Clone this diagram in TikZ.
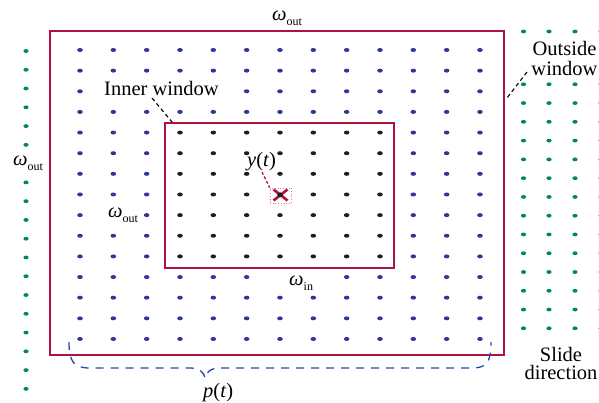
\documentclass[tikz,border=0pt]{standalone}
\usepackage{fontspec}
\setmainfont{Liberation Serif}
\definecolor{outred}{RGB}{176,18,62}
\definecolor{dotblue}{RGB}{45,55,150}
\definecolor{dotgreen}{RGB}{0,140,70}
\definecolor{dotblack}{RGB}{30,30,30}
\definecolor{braceblue}{RGB}{40,70,170}
\definecolor{boxpink}{RGB}{230,120,150}
\newcommand\wlab[1]{\textit{ω}\raisebox{-5.5pt}{\fontsize{12}{12}\selectfont #1}}
\begin{document}
\begin{tikzpicture}[x=1pt,y=-1pt,
  lbl/.style={font=\fontsize{20.5}{20}\selectfont, inner sep=0pt},
  winrect/.style={draw=outred, line width=1.9pt, rectangle, inner sep=0pt, fill=none},
  bluedot/.style={fill=dotblue},
  blackdot/.style={fill=dotblack},
  greendot/.style={fill=dotgreen},
  leader/.style={draw=black, line width=1.1pt, dash pattern=on 4pt off 3pt},
  redleader/.style={draw=outred, line width=1.3pt, dash pattern=on 3pt off 2pt},
  bracestyle/.style={draw=braceblue, line width=1.3pt, dash pattern=on 8pt off 7pt}]
\useasboundingbox (0,0) rectangle (599,402);

% grid of dots
\foreach \k in {0,...,12}{
  \foreach \j in {0,...,14}{
    \pgfmathsetmacro\xx{80+33.33*\k}
    \pgfmathsetmacro\yy{50+20.64*\j}
    \pgfmathtruncatemacro\inside{(\k>2)&&(\k<10)&&(\j>3)&&(\j<11)}
    \pgfmathtruncatemacro\hide{((\j==2)&&(\k>0)&&(\k<5))||((\j==8)&&(\k==1))||((\j==11)&&((\k==6)||(\k==7)))}
    \ifnum\hide=0
      \ifnum\inside=1
        \fill[blackdot] (\xx,\yy) ellipse [x radius=2.8pt, y radius=2.0pt];
      \else
        \fill[bluedot] (\xx,\yy) ellipse [x radius=2.8pt, y radius=2.0pt];
      \fi
    \fi
  }
}
% left green column
\foreach \j in {0,...,18}{
  \ifnum\j=6 \else
    \fill[greendot] (26,{51+18.77*\j}) ellipse [x radius=2.6pt, y radius=1.9pt];
  \fi
}
% right green block
\foreach \x in {523.5,549,575,601}{
  \fill[greendot] (\x,31.5) ellipse [x radius=2.6pt, y radius=1.9pt];
  \foreach \j in {0,...,13}{
    \fill[greendot] (\x,{84.3+18.77*\j}) ellipse [x radius=2.6pt, y radius=1.9pt];
  }
}

% windows
\node[winrect, minimum width=454pt, minimum height=324pt] (outer) at (277,193) {};
\node[winrect, minimum width=229pt, minimum height=145pt] (inner) at (279.5,195.5) {};

% target marker
\node[draw=boxpink, dotted, line width=0.7pt, minimum width=21pt, minimum height=15pt, inner sep=0pt] (xbox) at (280.5,195.5) {};
\draw[outred, line width=2.6pt] (273.5,189.5) -- (287.5,200.5);
\draw[outred, line width=2.6pt] (273.5,200.5) -- (287.5,189.5);
\fill[dotblack] (280.3,194.9) ellipse [x radius=2.8pt, y radius=2.2pt];

% labels
\node[lbl, anchor=base west] (wtop) at (272,20) {\wlab{out}};
\node[lbl, anchor=base west] (wleft) at (13,165) {\wlab{out}};
\node[lbl, anchor=base west] (wmid) at (108,217) {\wlab{out}};
\node[lbl, anchor=base west] (win) at (289,285) {\wlab{in}};
\node[lbl, anchor=base west] (ylab) at (247,166) {\textit{y}(\textit{t})};
\node[lbl, anchor=base west] (plab) at (203,397) {\textit{p}(\textit{t})};
\node[lbl, anchor=base west] (iwlab) at (104,95) {Inner window};
\node[lbl, anchor=north, align=center] (owlab) at (564.5,41.3) {Outside\\window};
\node[lbl, anchor=north, align=center, font=\fontsize{20.5}{18.5}\selectfont] (sdlab) at (561,347) {Slide\\direction};

% leaders
\coordinate (iwA) at (152,98);
\coordinate (iwB) at (172,122);
\draw[leader] (iwA) -- (iwB);
\coordinate (owA) at (527,72);
\coordinate (owB) at (507,98);
\draw[leader] (owA) -- (owB);
\coordinate (yA) at (262,172);
\draw[redleader] (yA) -- (xbox.north west);

% brace p(t)
\coordinate (brL) at (69,342);
\coordinate (brT) at (205,378);
\coordinate (brR) at (491,342);
\draw[bracestyle] (brL) .. controls (69,362) and (74,368) .. (90,368) -- (190,368)
  .. controls (199,368) and (204,372) .. (brT)
  .. controls (206,372) and (211,368) .. (220,368) -- (472,368)
  .. controls (487,368) and (491,362) .. (brR);
\end{tikzpicture}
\end{document}
